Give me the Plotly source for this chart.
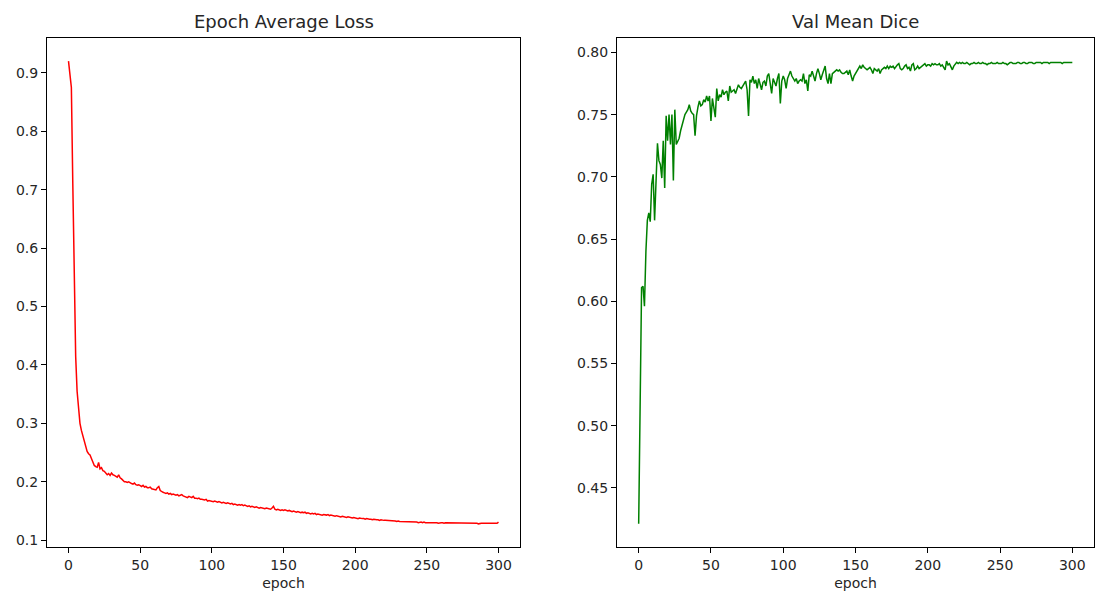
import plotly.graph_objects as go

# Epoch average loss (epochs 0..300)
loss_values = [
    0.920, 0.900, 0.875, 0.710, 0.530, 0.415, 0.355, 0.318, 0.300, 0.288,
    0.278, 0.268, 0.258, 0.252, 0.248, 0.246, 0.240, 0.234, 0.228, 0.226,
    0.225, 0.233, 0.222, 0.224, 0.219, 0.218, 0.215, 0.212, 0.214, 0.211,
    0.215, 0.212, 0.211, 0.210, 0.208, 0.212, 0.207, 0.205, 0.203, 0.200,
    0.200, 0.199, 0.200, 0.198, 0.197, 0.196, 0.198, 0.195, 0.194, 0.195,
    0.193, 0.192, 0.194, 0.191, 0.192, 0.190, 0.190, 0.191, 0.188, 0.187,
    0.186, 0.186, 0.190, 0.192, 0.185, 0.183, 0.182, 0.181, 0.180, 0.181,
    0.179, 0.180, 0.178, 0.179, 0.178, 0.177, 0.178, 0.176, 0.177, 0.178,
    0.176, 0.175, 0.174, 0.173, 0.175, 0.174, 0.173, 0.175, 0.172, 0.172,
    0.171, 0.172, 0.170, 0.170, 0.169, 0.169, 0.170, 0.167, 0.168, 0.167,
    0.167, 0.166, 0.167, 0.166, 0.165, 0.166, 0.165, 0.164, 0.165, 0.164,
    0.163, 0.164, 0.163, 0.162, 0.163, 0.161, 0.162, 0.161, 0.160, 0.161,
    0.160, 0.161, 0.159, 0.160, 0.159, 0.158, 0.159, 0.157, 0.158, 0.157,
    0.156, 0.157, 0.156, 0.155, 0.156, 0.155, 0.155, 0.154, 0.155, 0.154,
    0.154, 0.153, 0.155, 0.158, 0.153, 0.152, 0.153, 0.152, 0.151, 0.152,
    0.151, 0.152, 0.151, 0.150, 0.151, 0.150, 0.149, 0.150, 0.149, 0.148,
    0.149, 0.148, 0.147, 0.148, 0.147, 0.148, 0.146, 0.147, 0.146, 0.145,
    0.146, 0.145, 0.146, 0.144, 0.145, 0.144, 0.144, 0.143, 0.144, 0.143,
    0.143, 0.144, 0.142, 0.143, 0.142, 0.142, 0.141, 0.142, 0.141, 0.141,
    0.140, 0.141, 0.140, 0.140, 0.139, 0.140, 0.139, 0.139, 0.138, 0.139,
    0.138, 0.138, 0.137, 0.138, 0.137, 0.137, 0.137, 0.136, 0.137, 0.136,
    0.136, 0.136, 0.135, 0.136, 0.135, 0.135, 0.135, 0.134, 0.135, 0.134,
    0.134, 0.134, 0.134, 0.133, 0.134, 0.133, 0.133, 0.133, 0.133, 0.132,
    0.133, 0.132, 0.132, 0.132, 0.132, 0.132, 0.131, 0.132, 0.131, 0.131,
    0.131, 0.131, 0.131, 0.131, 0.130, 0.131, 0.131, 0.130, 0.131, 0.130,
    0.130, 0.130, 0.130, 0.131, 0.130, 0.130, 0.130, 0.130, 0.129, 0.130,
    0.130, 0.130, 0.129, 0.130, 0.130, 0.129, 0.130, 0.129, 0.130, 0.129,
    0.129, 0.130, 0.129, 0.129, 0.129, 0.130, 0.129, 0.129, 0.129, 0.129,
    0.129, 0.129, 0.130, 0.129, 0.129, 0.129, 0.128, 0.129, 0.129, 0.129,
    0.129, 0.129, 0.129, 0.128, 0.129, 0.129, 0.129, 0.129, 0.128, 0.129,
    0.131,
]

# Validation mean dice (epochs 0..300)
dice_values = [
    0.421, 0.505, 0.611, 0.612, 0.596, 0.640, 0.665, 0.671, 0.664, 0.694,
    0.702, 0.665, 0.700, 0.727, 0.713, 0.710, 0.699, 0.729, 0.691, 0.749,
    0.729, 0.750, 0.726, 0.750, 0.697, 0.754, 0.726, 0.728, 0.731, 0.737,
    0.742, 0.747, 0.750, 0.752, 0.754, 0.758, 0.753, 0.751, 0.750, 0.733,
    0.749, 0.756, 0.761, 0.757, 0.758, 0.762, 0.760, 0.765, 0.761, 0.765,
    0.745, 0.763, 0.757, 0.748, 0.771, 0.761, 0.766, 0.764, 0.770, 0.766,
    0.768, 0.769, 0.761, 0.773, 0.768, 0.769, 0.770, 0.767, 0.771, 0.774,
    0.772, 0.771, 0.773, 0.775, 0.777, 0.770, 0.749, 0.778, 0.776, 0.781,
    0.775, 0.778, 0.771, 0.779, 0.774, 0.770, 0.776, 0.777, 0.773, 0.781,
    0.783, 0.774, 0.767, 0.779, 0.776, 0.773, 0.779, 0.783, 0.759, 0.777,
    0.781, 0.778, 0.771, 0.779, 0.782, 0.785, 0.781, 0.779, 0.777, 0.779,
    0.775, 0.777, 0.778, 0.777, 0.783, 0.775, 0.778, 0.769, 0.782, 0.781,
    0.785, 0.781, 0.777, 0.783, 0.787, 0.783, 0.778, 0.782, 0.785, 0.789,
    0.779, 0.775, 0.783, 0.775, 0.783, 0.784, 0.785, 0.786, 0.785, 0.786,
    0.784, 0.783, 0.783, 0.784, 0.785, 0.782, 0.786, 0.781, 0.777, 0.781,
    0.783, 0.785, 0.786, 0.789, 0.787, 0.790, 0.788, 0.787, 0.786, 0.787,
    0.788, 0.786, 0.783, 0.787, 0.786, 0.785, 0.787, 0.783, 0.786, 0.787,
    0.788, 0.787, 0.789, 0.787, 0.789, 0.788, 0.789, 0.787, 0.789, 0.790,
    0.791, 0.787, 0.786, 0.787, 0.789, 0.790, 0.787, 0.788, 0.785, 0.790,
    0.791, 0.786, 0.787, 0.789, 0.787, 0.788, 0.789, 0.790, 0.791, 0.789,
    0.790, 0.790, 0.789, 0.791, 0.790, 0.791, 0.790, 0.790, 0.791, 0.789,
    0.790, 0.788, 0.786, 0.793, 0.790, 0.791, 0.788, 0.786, 0.789, 0.791,
    0.792, 0.791, 0.792, 0.791, 0.792, 0.791, 0.791, 0.792, 0.791, 0.790,
    0.791, 0.791, 0.792, 0.791, 0.791, 0.792, 0.791, 0.791, 0.792, 0.791,
    0.791, 0.790, 0.791, 0.791, 0.792, 0.791, 0.791, 0.791, 0.792, 0.791,
    0.791, 0.791, 0.792, 0.791, 0.791, 0.790, 0.791, 0.792, 0.792, 0.791,
    0.791, 0.791, 0.792, 0.792, 0.791, 0.791, 0.792, 0.792, 0.791, 0.791,
    0.792, 0.792, 0.792, 0.791, 0.791, 0.792, 0.792, 0.792, 0.792, 0.791,
    0.792, 0.792, 0.792, 0.792, 0.791, 0.792, 0.792, 0.792, 0.792, 0.792,
    0.792, 0.792, 0.792, 0.791, 0.792, 0.792, 0.792, 0.792, 0.792, 0.792,
    0.792,
]

loss_epochs = list(range(len(loss_values)))
dice_epochs = list(range(len(dice_values)))

titles = ["Epoch Average Loss", "Val Mean Dice"]
x_label = "epoch"
x_ticks = [0, 50, 100, 150, 200, 250, 300]
loss_ticks = [0.1, 0.2, 0.3, 0.4, 0.5, 0.6, 0.7, 0.8, 0.9]
dice_ticks = [0.45, 0.50, 0.55, 0.60, 0.65, 0.70, 0.75, 0.80]


def auto_range(vals, margin=0.05):
    lo, hi = min(vals), max(vals)
    span = hi - lo
    return [lo - margin * span, hi + margin * span]


W, H = 1104, 606
FONT = "DejaVu Sans"
TXT = "#262626"

# plot boxes in pixels
left_box = (47, 520)
right_box = (617, 1094)
top_px, bottom_px = 38, 547

ydom = [(H - bottom_px) / H, (H - top_px) / H]

fig = go.Figure()
fig.add_trace(go.Scatter(x=loss_epochs, y=loss_values, mode="lines",
                         line=dict(color="red", width=1.5), xaxis="x", yaxis="y",
                         showlegend=False, hoverinfo="skip"))
fig.add_trace(go.Scatter(x=dice_epochs, y=dice_values, mode="lines",
                         line=dict(color="green", width=1.5), xaxis="x2", yaxis="y2",
                         showlegend=False, hoverinfo="skip"))

axis_common = dict(showline=True, linecolor="black", linewidth=1, mirror=True,
                   ticks="outside", ticklen=5, tickwidth=1, tickcolor="black",
                   showgrid=False, zeroline=False,
                   tickfont=dict(family=FONT, size=14, color=TXT))

fig.update_layout(
    width=W, height=H,
    margin=dict(l=0, r=0, t=0, b=0),
    paper_bgcolor="white", plot_bgcolor="white",
    font=dict(family=FONT, color=TXT),
    xaxis=dict(domain=[left_box[0] / W, left_box[1] / W], anchor="y",
               range=auto_range(loss_epochs), tickvals=x_ticks,
               title=dict(text=x_label, font=dict(family=FONT, size=14, color=TXT), standoff=6),
               **axis_common),
    yaxis=dict(domain=ydom, anchor="x", range=auto_range(loss_values),
               tickvals=loss_ticks, tickformat=".1f", **axis_common),
    xaxis2=dict(domain=[right_box[0] / W, right_box[1] / W], anchor="y2",
                range=auto_range(dice_epochs), tickvals=x_ticks,
                title=dict(text=x_label, font=dict(family=FONT, size=14, color=TXT), standoff=6),
                **axis_common),
    yaxis2=dict(domain=ydom, anchor="x2", range=auto_range(dice_values),
                tickvals=dice_ticks, tickformat=".2f", **axis_common),
)

for box, t in zip([left_box, right_box], titles):
    fig.add_annotation(text=t, x=(box[0] + box[1]) / 2 / W, y=(H - 22) / H,
                       xref="paper", yref="paper", showarrow=False,
                       xanchor="center", yanchor="middle",
                       font=dict(family=FONT, size=18, color=TXT))

fig.write_html("out.html", config={"displayModeBar": False},
               post_script="document.body.style.margin='0px';document.body.style.overflow='hidden';")
